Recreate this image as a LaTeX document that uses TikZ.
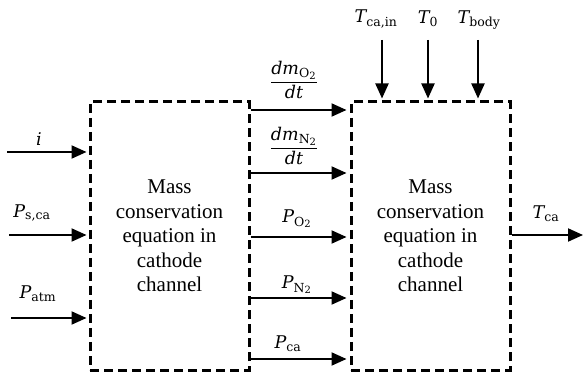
\documentclass[tikz,border=0pt]{standalone}
\usepackage{amsmath}
\usepackage{fontspec}
\setmainfont{Liberation Serif}
\newfontfamily\dvs{DejaVu Serif}[NFSSFamily=dvs]
\DeclareMathAlphabet{\mvi}{TU}{dvs}{m}{it}
\DeclareMathAlphabet{\mvr}{TU}{dvs}{m}{n}
\DeclareMathSizes{17.5}{17.5}{12.5}{10}
\newcommand{\sbt}[1]{\text{\dvs #1}}
\usetikzlibrary{arrows.meta}
\begin{document}
\begin{tikzpicture}[x=1pt,y=-1pt,
  blk/.style={draw, line width=3pt, dash pattern=on 9pt off 5pt,
    minimum width=159pt, minimum height=268pt, align=center,
    font=\fontsize{21}{24.5}\selectfont, inner sep=0pt},
  arr/.style={line width=2pt, -{Triangle[length=15pt,width=13pt]}},
  lbl/.style={font=\fontsize{17.5}{20}\selectfont, inner sep=0pt}]
\useasboundingbox (0,0) rectangle (584,374);

% blocks
\node[blk] (L) at (169.5,236) {Mass\\conservation\\equation in\\cathode\\channel};
\node[blk] (R) at (430.5,236) {Mass\\conservation\\equation in\\cathode\\channel};

% left inputs
\coordinate (i0) at (7,152);
\coordinate (i1) at (9,235);
\coordinate (i2) at (11,318);
\draw[arr, shorten >=2pt] (i0) -- (L.west |- i0);
\draw[arr, shorten >=2pt] (i1) -- (L.west |- i1);
\draw[arr, shorten >=2pt] (i2) -- (L.west |- i2);
\node[lbl] (li0) at (39,139) {$\mvi{i}$};
\node[lbl] (li1) at (32,213) {$\mvi{P}_{\sbt{s,ca}}$};
\node[lbl] (li2) at (38,294) {$\mvi{P}_{\sbt{atm}}$};

% middle connectors
\coordinate (m1) at (0,110);
\coordinate (m2) at (0,173);
\coordinate (m3) at (0,237);
\coordinate (m4) at (0,298);
\coordinate (m5) at (0,359);
\foreach \m in {m1,m2,m3,m4,m5}
  \draw[arr, shorten >=3pt] (L.east |- \m) -- (R.west |- \m);
\node[lbl] (lm1) at (294,80) {$\dfrac{\mvi{dm}_{\mvr{O}_{\mvr{2}}}}{\mvi{dt}}$};
\node[lbl] (lm2) at (294,146) {$\dfrac{\mvi{dm}_{\mvr{N}_{\mvr{2}}}}{\mvi{dt}}$};
\node[lbl] (lm3) at (297,219) {$\mvi{P}_{\mvr{O}_{\mvr{2}}}$};
\node[lbl] (lm4) at (297,285) {$\mvi{P}_{\mvr{N}_{\mvr{2}}}$};
\node[lbl] (lm5) at (288,344) {$\mvi{P}_{\sbt{ca}}$};

% top inputs
\coordinate (t1) at (382,40);
\coordinate (t2) at (428,40);
\coordinate (t3) at (478,40);
\draw[arr, shorten >=2pt] (t1) -- (R.north -| t1);
\draw[arr, shorten >=2pt] (t2) -- (R.north -| t2);
\draw[arr, shorten >=2pt] (t3) -- (R.north -| t3);
\node[lbl] (lt1) at (376,19) {$\mvi{T}_{\sbt{ca,in}}$};
\node[lbl] (lt2) at (428,19) {$\mvi{T}_{\mvr{0}}$};
\node[lbl] (lt3) at (479,20) {$\mvi{T}_{\sbt{body}}$};

% output
\coordinate (o) at (583,235);
\draw[arr] (R.east |- o) -- (o);
\node[lbl] (lo) at (546,214) {$\mvi{T}_{\sbt{ca}}$};
\end{tikzpicture}
\end{document}
